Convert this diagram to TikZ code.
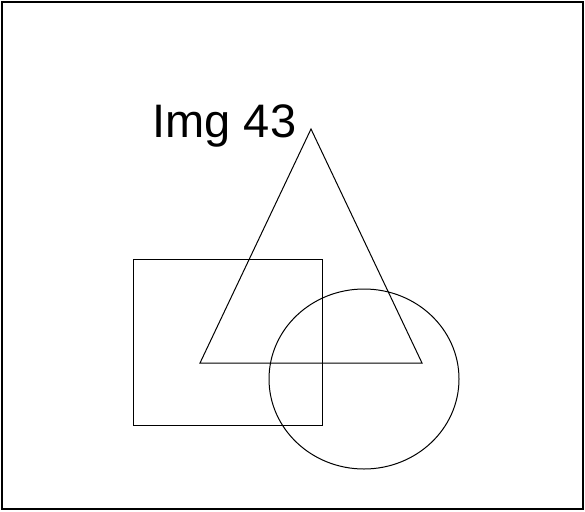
\documentclass[tikz,border=0pt]{standalone}
\usepackage{fontspec}
\setmainfont{Liberation Sans}
\usetikzlibrary{positioning}
\definecolor{ink}{HTML}{000000}

\begin{document}
\begin{tikzpicture}[x=1pt, y=-1pt, line width=1pt, draw=ink]
  \useasboundingbox (0,0) rectangle (585,511);
  % outer frame
  \draw[line width=1.5pt] (2,2) rectangle (583,509);
  % shapes
  \draw (133,259) rectangle (322,425);
  \draw (364,379) ellipse [x radius=95, y radius=90];
  \draw (311,129) -- (200,363) -- (422,363) -- cycle;
  % label
  \node[anchor=base west, inner sep=0pt, font=\fontsize{47}{51}\selectfont] (title) at (152,137) {Img 43};
\end{tikzpicture}
\end{document}
